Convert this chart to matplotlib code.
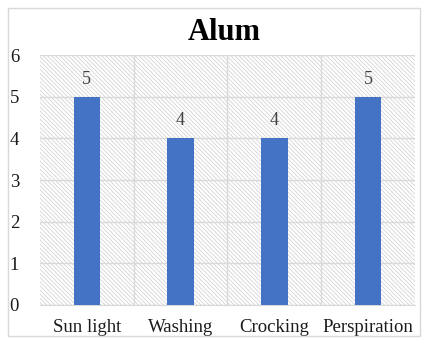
import matplotlib.pyplot as plt
from matplotlib.patches import Rectangle

categories = ['Sun light', 'Washing', 'Crocking', 'Perspiration']
values = [5, 4, 4, 5]
yticks = [0, 1, 2, 3, 4, 5, 6]

plt.rcParams['font.family'] = ['Liberation Serif', 'DejaVu Serif']
plt.rcParams['hatch.color'] = '#d4d4d4'
plt.rcParams['hatch.linewidth'] = 0.6

fig = plt.figure(figsize=(4.24, 3.40), dpi=100)
fig.patches.append(Rectangle((0.02, 0.012), 0.97, 0.965, transform=fig.transFigure,
                             fill=False, edgecolor='#d9d9d9', linewidth=1))
ax = fig.add_axes([0.094, 0.103, 0.885, 0.735])

# hatched background for the plot area
ax.add_patch(Rectangle((0, 0), 1, 1, transform=ax.transAxes, facecolor='white',
                       hatch='\\' * 8, linewidth=0, zorder=0))

x = list(range(len(categories)))
ax.bar(x, values, width=0.28, color='#4472c4', zorder=3)
for xi, v in zip(x, values):
    ax.text(xi, v + 0.22, str(v), ha='center', va='bottom', fontsize=13, color='#404040')

ax.set_xlim(-0.5, 3.5)
ax.set_ylim(0, 6)
ax.set_yticks(yticks)
ax.set_xticks(x)
ax.set_xticklabels(categories)
ax.set_xticks([0.5, 1.5, 2.5], minor=True)
ax.tick_params(axis='both', which='both', length=0, labelsize=13.5, colors='#1a1a1a')
ax.tick_params(axis='x', pad=10)
ax.tick_params(axis='y', pad=15)
ax.grid(axis='y', color='#d9d9d9', linewidth=1, zorder=1)
ax.grid(axis='x', which='minor', color='#d9d9d9', linewidth=1, zorder=1)
for s in ['top', 'left', 'right']:
    ax.spines[s].set_visible(False)
ax.spines['bottom'].set_color('#d9d9d9')
ax.set_axisbelow(True)

fig.text(0.528, 0.905, 'Alum', ha='center', va='center', fontsize=22, fontweight='bold')

plt.savefig('out.png', dpi=100)
